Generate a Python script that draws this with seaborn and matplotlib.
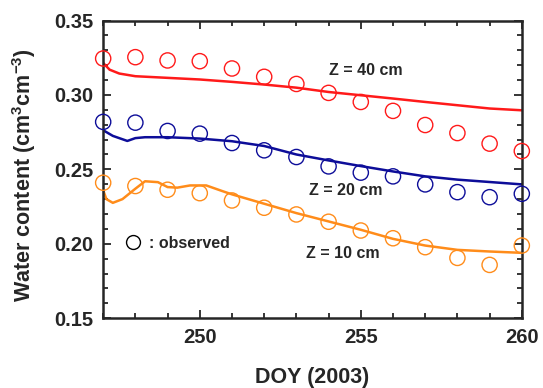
import numpy as np
import pandas as pd
import matplotlib
matplotlib.use("Agg")
import matplotlib.pyplot as plt
import seaborn as sns
from matplotlib.lines import Line2D
from matplotlib.ticker import MultipleLocator

# observed water content (circles), one per day
obs_doy = [247, 248, 249, 250, 251, 252, 253, 254, 255, 256, 257, 258, 259, 260]
obs_40 = [0.3245, 0.3254, 0.3232, 0.3227, 0.3178, 0.3122, 0.3074, 0.3014, 0.2953, 0.2893, 0.2798, 0.2744, 0.2673, 0.2623]
obs_20 = [0.2819, 0.2814, 0.2758, 0.2740, 0.2677, 0.2628, 0.2583, 0.2520, 0.2478, 0.2453, 0.2399, 0.2347, 0.2313, 0.2336]
obs_10 = [0.2410, 0.2388, 0.2363, 0.2340, 0.2291, 0.2242, 0.2197, 0.2148, 0.2089, 0.2037, 0.1977, 0.1905, 0.1858, 0.1988]

# simulated water content (lines)
sim40_doy = [247.0, 247.2, 247.5, 248.0, 249.0, 250.0, 251.0, 252.0, 253.0, 254.0, 255.0, 256.0, 257.0, 258.0, 259.0, 260.0]
sim40 = [0.3215, 0.3170, 0.3144, 0.3126, 0.3115, 0.3104, 0.3088, 0.3070, 0.3049, 0.3020, 0.2998, 0.2976, 0.2953, 0.2931, 0.2909, 0.2897]
sim20_doy = [247.0, 247.3, 247.75, 248.0, 248.3, 249.0, 250.0, 251.0, 252.0, 253.0, 254.0, 255.0, 256.0, 257.0, 258.0, 259.0, 260.0]
sim20 = [0.2763, 0.2725, 0.2691, 0.2710, 0.2716, 0.2716, 0.2707, 0.2689, 0.2657, 0.2600, 0.2560, 0.2522, 0.2486, 0.2453, 0.2431, 0.2415, 0.2399]
sim10_doy = [247.0, 247.1, 247.3, 247.6, 248.0, 248.3, 248.7, 249.0, 249.3, 249.7, 250.2, 250.7, 251.0, 252.0, 253.0, 254.0, 255.0, 256.0, 257.0, 258.0, 259.0, 260.0]
sim10 = [0.2360, 0.2300, 0.2275, 0.2300, 0.2370, 0.2420, 0.2414, 0.2381, 0.2377, 0.2392, 0.2392, 0.2354, 0.2332, 0.2269, 0.2206, 0.2150, 0.2094, 0.2033, 0.1988, 0.1959, 0.1948, 0.1939]

colors = {"40": "#ff1a1a", "20": "#0d0d99", "10": "#ff8c1a"}

sns.set_style("ticks")
plt.rcParams["font.family"] = ["Liberation Sans", "DejaVu Sans"]
plt.rcParams["font.weight"] = "bold"
plt.rcParams["mathtext.fontset"] = "custom"
plt.rcParams["mathtext.rm"] = "Liberation Sans:bold"
plt.rcParams["mathtext.default"] = "rm"

fig = plt.figure(figsize=(5.43, 3.88), dpi=100)
ax = fig.add_axes([0.19, 0.18, 0.771, 0.767])

sim = [(sim40_doy, sim40, "40"), (sim20_doy, sim20, "20"), (sim10_doy, sim10, "10")]
for doy, vals, z in sim:
    sns.lineplot(x=doy, y=vals, color=colors[z], lw=1.8, ax=ax)

for vals, z in [(obs_40, "40"), (obs_20, "20"), (obs_10, "10")]:
    sns.scatterplot(x=obs_doy, y=vals, ax=ax, s=120, facecolor="none",
                    edgecolor=colors[z], linewidth=1.0, zorder=3, clip_on=False)

ax.text(254.0, 0.3167, "Z = 40 cm", fontsize=11.5, fontweight="bold", va="center")
ax.text(253.4, 0.2359, "Z = 20 cm", fontsize=11.5, fontweight="bold", va="center")
ax.text(253.3, 0.1932, "Z = 10 cm", fontsize=11.5, fontweight="bold", va="center")

handle = Line2D([], [], marker="o", ls="none", markerfacecolor="none",
                markeredgecolor="black", markersize=10, markeredgewidth=1.0)
ax.legend([handle], [": observed"], loc="center left", bbox_to_anchor=(0.01, 0.252),
          frameon=False, handletextpad=0.0, borderaxespad=0.2,
          prop={"size": 11.5, "weight": "bold"})

ax.set_xlim(247, 260)
ax.set_ylim(0.15, 0.35)
ax.xaxis.set_major_locator(MultipleLocator(5))
ax.xaxis.set_minor_locator(MultipleLocator(1))
ax.yaxis.set_major_locator(MultipleLocator(0.05))
ax.yaxis.set_minor_locator(MultipleLocator(0.01))
ax.yaxis.set_major_formatter(matplotlib.ticker.FormatStrFormatter("%.2f"))

ax.tick_params(which="both", direction="in", top=True, right=True, width=1.3)
ax.tick_params(which="major", length=6, labelsize=14.5, pad=7)
ax.tick_params(which="minor", length=3.5)
for lab in ax.get_xticklabels() + ax.get_yticklabels():
    lab.set_fontweight("bold")
for sp in ax.spines.values():
    sp.set_linewidth(1.8)

ax.set_xlabel("DOY (2003)", fontsize=15.5, fontweight="bold")
ax.set_ylabel("Water content (cm$^{3}$cm$^{-3}$)", fontsize=15.5, fontweight="bold")
ax.xaxis.set_label_coords(0.5, -0.165)
ax.yaxis.set_label_coords(-0.19, 0.48)
ax.yaxis.label.set_va("center")

fig.savefig("out.png", dpi=100)
